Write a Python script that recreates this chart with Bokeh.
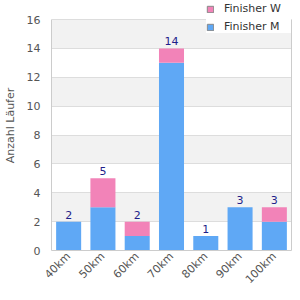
from bokeh.plotting import figure
from bokeh.models import ColumnDataSource, Legend, LegendItem, FixedTicker, LabelSet, LinearAxis
from bokeh.embed import file_html
from bokeh.resources import INLINE
from bokeh.core.properties import value
import math

categories = ["40km", "50km", "60km", "70km", "80km", "90km", "100km"]
finisher_m = [2, 3, 1, 13, 1, 3, 2]
finisher_w = [0, 2, 1, 1, 0, 0, 1]
totals = [m + w for m, w in zip(finisher_m, finisher_w)]
y_ticks = [0, 2, 4, 6, 8, 10, 12, 14, 16]
colors = ["#5fa8f5", "#f283b8"]

src = ColumnDataSource(dict(cat=categories, m=finisher_m, w=finisher_w,
                            top=totals, label=[str(t) for t in totals]))

# frame reaches the top edge so the legend (drawn inside the frame) is not clipped;
# the extra headroom above 16 is left blank
y_max = 16 + 19 * 16 / 231.0
p = figure(width=300, height=300, x_range=categories, y_range=(0, y_max),
           output_backend="svg", toolbar_location=None,
           min_border_left=10, min_border_right=9, min_border_top=0, min_border_bottom=50)
p.outline_line_color = None

r = p.vbar_stack(["m", "w"], x="cat", width=0.73, source=src,
                 color=colors, line_color=None)

labels = LabelSet(x="cat", y="top", text="label", source=src, text_align="center",
                  text_baseline="bottom", y_offset=3, text_font_size="11px",
                  text_color="#1f1f8a", text_font=value("DejaVu Sans"))
p.add_layout(labels)

# legend-only renderers (hidden) with grey outlined squares
lw = p.vbar(x="cat", top="w", width=0.5, source=src, fill_color=colors[1],
            line_color="#888888", visible=False)
lm = p.vbar(x="cat", top="m", width=0.5, source=src, fill_color=colors[0],
            line_color="#888888", visible=False)

p.xgrid.grid_line_color = None
p.ygrid.grid_line_color = "#dddddd"
p.ygrid.band_fill_color = "#f2f2f2"
p.ygrid.band_fill_alpha = 1.0
p.ygrid.ticker = FixedTicker(ticks=y_ticks)

left_axis = p.left[0]
bottom_axis = p.below[0]
left_axis.ticker = FixedTicker(ticks=y_ticks)
left_axis.bounds = (0, 16)

right_axis = LinearAxis(ticker=FixedTicker(ticks=[]), bounds=(0, 16))
p.add_layout(right_axis, "right")

for ax in (bottom_axis, left_axis, right_axis):
    ax.axis_line_color = "#cccccc"
    ax.major_tick_line_color = None
    ax.minor_tick_line_color = None
    ax.major_tick_out = 0
    ax.major_tick_in = 0
    ax.minor_tick_out = 0
    ax.minor_tick_in = 0
    ax.major_label_text_color = "#555555"
    ax.major_label_text_font_size = "11px"
    ax.major_label_text_font = "DejaVu Sans"
right_axis.major_label_text_font_size = "0px"
right_axis.major_label_standoff = 0
left_axis.major_label_standoff = 11
bottom_axis.major_label_orientation = math.pi / 4
bottom_axis.major_label_standoff = 4
left_axis.axis_label = "Anzahl Läufer"
left_axis.axis_label_text_font_size = "11px"
left_axis.axis_label_text_font_style = "normal"
left_axis.axis_label_text_color = "#555555"
left_axis.axis_label_text_font = "DejaVu Sans"
left_axis.axis_label_standoff = 7

legend = Legend(items=[LegendItem(label="Finisher W", renderers=[lw]),
                       LegendItem(label="Finisher M", renderers=[lm])],
                location=(155, 217), orientation="vertical")
legend.label_text_font_size = "11px"
legend.label_text_color = "#333333"
legend.label_text_font = "DejaVu Sans"
legend.glyph_width = 8
legend.glyph_height = 8
legend.label_height = 10
legend.label_width = 68
legend.label_standoff = 10
legend.spacing = 5
legend.padding = 4
legend.margin = 0
legend.border_line_color = None
legend.background_fill_color = "white"
legend.background_fill_alpha = 1.0
legend.inactive_fill_alpha = 0.0
legend.click_policy = "none"
p.add_layout(legend, "center")

open("out.html", "w").write(file_html(p, INLINE))
